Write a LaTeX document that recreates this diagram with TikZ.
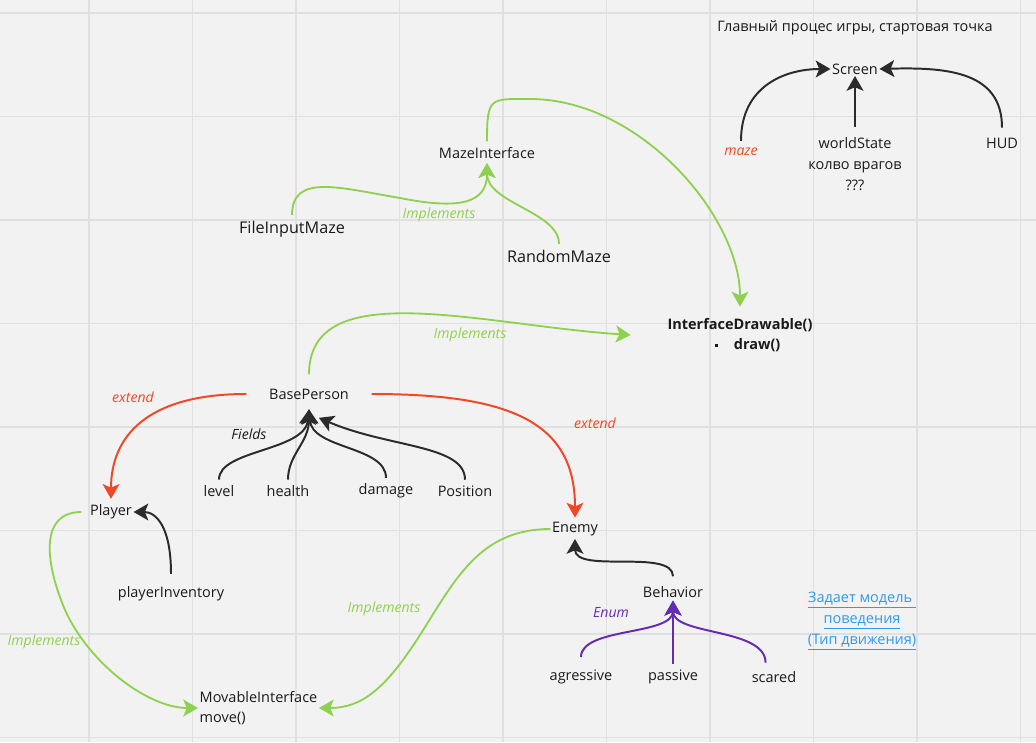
\documentclass[tikz,border=0pt]{standalone}
\usepackage{fontspec}
\setmainfont{Open Sans}
\usetikzlibrary{arrows.meta}

\definecolor{bgGray}{HTML}{F2F2F2}
\definecolor{gridGray}{HTML}{E0E0E0}
\definecolor{txtDark}{HTML}{1A1A1A}
\definecolor{lineDark}{HTML}{2B2B2B}
\definecolor{implGreen}{HTML}{8FD14F}
\definecolor{extRed}{HTML}{F24726}
\definecolor{enumPurple}{HTML}{652CB3}
\definecolor{linkBlue}{HTML}{2D9BF0}

\begin{document}
\begin{tikzpicture}[x=0.025cm, y=-0.025cm,
        >={Stealth[length=10.5pt,width=12pt,inset=2.5pt]},
        box/.style={text=txtDark, inner sep=1pt, font=\fontsize{10.3}{15}\selectfont},
        bigbox/.style={box, font=\fontsize{11.5}{14}\selectfont},
        boldbox/.style={box, font=\fontsize{10.3}{14.5}\selectfont\bfseries},
        lbl/.style={inner sep=1pt, font=\fontsize{10}{12}\selectfont\itshape},
        dark/.style={->, draw=lineDark, line width=1.4pt},
        impl/.style={->, draw=implGreen, line width=1.3pt},
        ext/.style={->, draw=extRed, line width=1.4pt},
        enum/.style={->, draw=enumPurple, line width=1.4pt}]

        % Background
        \fill[bgGray] (0,0) rectangle (1036,742);
        \useasboundingbox (0,0) rectangle (1036,742);
        \foreach \gx in {89,192.5,296,399.5,503,606.5,710,813.5,917,1020.5}
            \draw[gridGray, line width=1pt] (\gx,0) -- (\gx,742);
        \foreach \gy in {13,116.5,220,323.5,427,530.5,634,737.5}
            \draw[gridGray, line width=1pt] (0,\gy) -- (1036,\gy);

        % Nodes
        \node[box] (Title) at (855,28) {Главный процес игры, стартовая точка};
        \node[box] (Screen) at (855,69) {Screen};
        \node[box, align=center] (WorldState) at (855,164) {worldState\\колво врагов\\???};
        \node[box] (HUD) at (1002,143) {HUD};
        \node[lbl, text=extRed] (Maze) at (741,152) {maze};

        \node[box] (MazeInterface) at (487,153) {MazeInterface};
        \node[bigbox] (FileInputMaze) at (292,229) {FileInputMaze};
        \node[bigbox] (RandomMaze) at (559,256) {RandomMaze};
        \node[lbl, text=implGreen] (ImplMaze) at (439,215) {Implements};

        \node[boldbox, align=center] (InterfaceDrawable) at (740,335)
            {InterfaceDrawable()\\\hspace{11pt}\raisebox{1.8pt}{\rule{2.4pt}{2.4pt}}\hspace{11pt}draw()};
        \node[lbl, text=implGreen] (ImplDrawable) at (470,335) {Implements};

        \node[box] (BasePerson) at (309,394) {BasePerson};
        \node[lbl, text=extRed] (ExtPlayer) at (133,397) {extend};
        \node[lbl, text=extRed] (ExtEnemy) at (595,423) {extend};
        \node[lbl, text=txtDark] (Fields) at (249,434) {Fields};
        \node[box] (Level) at (219,491) {level};
        \node[box] (Health) at (288,491) {health};
        \node[box] (Damage) at (386,491) {damage};
        \node[box] (Position) at (465,491) {Position};

        \node[box] (Player) at (111,512) {Player};
        \node[box] (PlayerInventory) at (171,594) {playerInventory};
        \node[box] (Enemy) at (575,529) {Enemy};
        \node[box] (Behavior) at (673,592) {Behavior};
        \node[lbl, text=enumPurple] (Enum) at (611,613) {Enum};
        \node[box] (Agressive) at (581,677) {agressive};
        \node[box] (Passive) at (673,677) {passive};
        \node[box] (Scared) at (774,677) {scared};
        \node[box, text=linkBlue, align=center] (BehaviorNote) at (862,621)
            {\underline{Задает модель }\\\underline{поведения}\\\underline{(Тип движения)}};

        \node[box, anchor=west, align=left, font=\fontsize{10.3}{14}\selectfont] (MovableInterface) at (198,708)
            {MovableInterface\\move()};
        \node[lbl, text=implGreen] (ImplEnemy) at (384,609) {Implements};
        \node[lbl, text=implGreen] (ImplPlayer) at (44,642) {Implements};

        % Arrows
        \draw[dark] ([yshift=4pt]Maze.north) .. controls +(0,-55) and +(-45,0) .. (Screen.west);
        \draw[dark] ([yshift=6pt]WorldState.north) -- (Screen.south);
        \draw[dark] ([yshift=6pt]HUD.north) .. controls +(0,-55) and +(70,-2) .. (Screen.east);

        \draw[impl] ([yshift=3pt]FileInputMaze.north) .. controls +(0,-42) and +(-60,-10) .. (400,198)
            .. controls +(60,12) and +(0,40) .. ([yshift=-2pt]MazeInterface.south);
        \draw[impl] ([yshift=3pt]RandomMaze.north) .. controls +(0,-32) and +(0,40) .. ([yshift=-2pt]MazeInterface.south);
        \draw[impl] ([yshift=3pt]MazeInterface.north) .. controls +(0,-45) and +(-40,0) .. (530,99)
            .. controls +(110,0) and +(0,-90) .. ([yshift=7pt]InterfaceDrawable.north);
        \draw[impl] ([yshift=9pt]BasePerson.north) .. controls +(0,-100) and +(-150,-10) .. ([xshift=-25pt]InterfaceDrawable.west);

        \draw[ext] ([xshift=-15pt]BasePerson.west) .. controls +(-100,0) and +(0,-62) .. ([yshift=3pt]Player.north);
        \draw[ext] ([xshift=15pt]BasePerson.east) .. controls +(140,0) and +(0,-95) .. ([yshift=2pt]Enemy.north);

        \draw[dark] ([yshift=3pt]Level.north) .. controls +(0,-30) and +(-4,42) .. ([yshift=-6pt]BasePerson.south);
        \draw[dark] ([yshift=3pt]Health.north) .. controls +(0,-25) and +(0,33) .. ([yshift=-6pt]BasePerson.south);
        \draw[dark] ([yshift=3pt]Damage.north) .. controls +(0,-32) and +(3,40) .. ([yshift=-6pt]BasePerson.south);
        \draw[dark] ([yshift=3pt]Position.north) .. controls +(0,-35) and +(70,30) .. ([xshift=7pt,yshift=-12pt]BasePerson.south);

        \draw[dark] ([yshift=8pt]PlayerInventory.north) .. controls +(0,-48) and +(22,0) .. (Player.east);
        \draw[impl] ([xshift=-5pt]Player.west) .. controls +(-41,0) and +(-21,-50) .. (65,610)
            .. controls +(25,55) and +(-49,0) .. (MovableInterface.west);
        \draw[impl] (Enemy.west) .. controls +(-71,0) and +(35,-55) .. (420,635)
            .. controls +(-35,55) and +(42,0) .. (MovableInterface.east);

        \draw[dark] ([yshift=6pt]Behavior.north) .. controls +(0,-28) and +(0,35) .. ([yshift=-1pt]Enemy.south);
        \draw[enum] ([yshift=8pt]Agressive.north) .. controls +(0,-30) and +(0,35) .. ([yshift=-1pt]Behavior.south);
        \draw[enum] ([yshift=3pt]Passive.north) -- ([yshift=-1pt]Behavior.south);
        \draw[enum] ([xshift=-6pt,yshift=5pt]Scared.north) .. controls +(0,-35) and +(0,35) .. ([yshift=-1pt]Behavior.south);
\end{tikzpicture}
\end{document}
